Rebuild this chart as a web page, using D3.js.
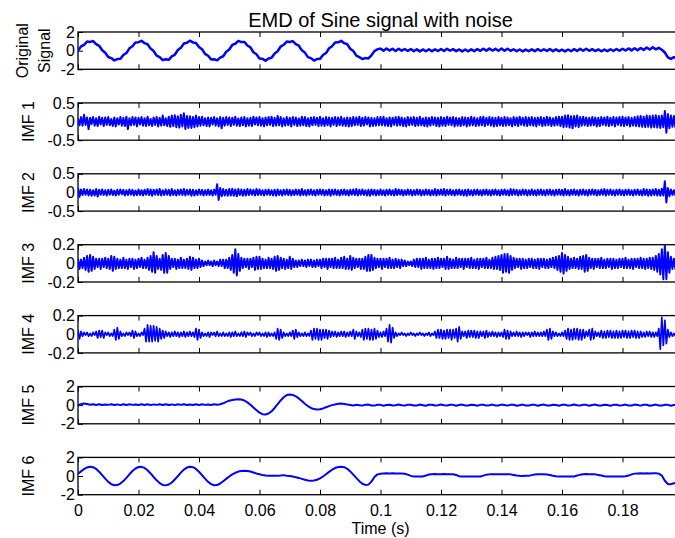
<!DOCTYPE html>
<html lang="en">
<head>
  <meta charset="UTF-8">
  <title>EMD of Sine signal with noise</title>
  <script src="https://d3js.org/d3.v7.min.js"></script>
  <style>
    body {
      margin: 0;
      padding: 0;
      background: #fff;
      overflow: hidden;
    }
    text {
      font-family: Arial, "Liberation Sans", sans-serif;
      fill: #000;
    }
  </style>
</head>
<body>
  <div id="chart"></div>

  <script>
    // sample spacing of the series below (seconds)
    const coarseStep = 0.001;
    const fineStep = 0.0005;

    // original signal, one value per ms
    const originalSignal = [
      0.02, .45, .62, .98, .94, 1.03, .7, .52, .04, -.22, -.68, -.8, -1.05, -.9, -.88, -.47, -.26, .25, .47, .88, .91, 1.06, .8, .69, .22, -.04, -.53, -.7, -1.02, -.93, -.98, -.62, -.44,
      .07, .3, .76, .84, 1.07, .88, .83, .4, .16, -.35, -.55, -.94, -.92, -1.04, -.74, -.6, -.12, .12, .61, .74, 1.04, .92, .94, .55, .35, -.17, -.39, -.83, -.88, -1.07, -.84, -.76, -.3,
      -.06, .44, .63, .97, .93, 1.02, .69, .53, .03, -.21, -.69, -.8, -1.06, -.9, -.88, -.47, -.26, .26, .47, .88, .9, 1.06, .8, .69, .21, -.03, -.53, -.69, -.9, -.8, -.84,
      -.5, -.05, .15,
      .22, 0, .24, .02, .2, -.03, .21, 0, .18, -.04, .17, -.05, .14, -.08, .13, -.06, .15, -.07, .14, -.04,
      .18, -.03, .2, -.01, .16, -.05, .13, -.08, .12, -.07, .14, -.05, .17, -.02, .2, 0, .22, .01, .19, -.01,
      .23, 0, .21, -.02, .15, -.06, .12, -.08, .11, -.06, .14, -.05, .16, -.04, .15, -.03, .17, -.05, .14, -.06,
      .1, -.08, .12, -.06, .16, -.03, .19, -.01, .2, -.02, .16, -.04, .13, -.07, .12, -.05, .15, -.03, .18, -.01,
      .21, .01, .24, .03, .26, .05, .28, .08, .33, .12, .36, .14, .3, .1, -.2, -.72, -.88, -.7, -.86, -.72,
      -.74
    ];

    // IMF 1..4, one value per 0.5 ms
    const imf1 = [
      .08, -.1, .12, -.11, .18, -.09, .11, -.2, .1, -.07, .12, -.11, .09, -.12, .13, -.08, .1, -.12, .11, -.09,
      .12, -.1, .07, -.12, .11, -.13, .09, -.08, .12, -.11, .1, -.12, .13, -.2, .09, -.1, .12, -.09, .11, -.13,
      .1, -.08, .12, -.11, .09, -.12, .13, -.1, .07, -.12, .11, -.09, .12, -.13, .1, -.11, .16, -.1, .09, -.12,
      .13, -.14, .16, -.12, .17, -.15, .14, -.16, .18, -.13, .22, -.2, .15, -.17, .14, -.17, .12, -.15, .16, -.13,
      .12, -.11, .13, -.1, .09, -.12, .11, -.13, .1, -.08, .12, -.11, .09, -.13, .12, -.18, .1, -.11, .12, -.09,
      .11, -.12, .1, -.09, .13, -.11, .08, -.12, .11, -.1, .12, -.13, .09, -.11, .1, -.12, .13, -.08, .11, -.1,
      .12, -.11, .09, -.13, .11, -.1, .12, -.09, .13, -.12, .1, -.11, .15, -.1, .12, -.13, .09, -.11, .12, -.1,
      .1, -.13, .12, -.09, .11, -.12, .08, -.11, .13, -.1, .12, -.12, .09, -.13, .11, -.1, .12, -.09, .1, -.12,
      .13, -.11, .09, -.12, .12, -.1, .11, -.13, .1, -.09, .12, -.12, .11, -.1, .13, -.11, .09, -.12, .11, -.13,
      .1, -.12, .12, -.1, .11, -.09, .13, -.12, .1, -.11, .12, -.08, .11, -.13, .1, -.12, .09, -.11, .12, -.1,
      .12, -.1, .13, -.11, .09, -.12, .11, -.13, .1, -.09, .12, -.11, .13, -.1, .11, -.12, .09, -.13, .12, -.1,
      .11, -.09, .12, -.12, .1, -.11, .13, -.1, .09, -.12, .11, -.13, .1, -.11, .12, -.09, .11, -.12, .1, -.13,
      .12, -.11, .1, -.12, .13, -.09, .11, -.1, .12, -.13, .1, -.11, .09, -.12, .12, -.1, .11, -.13, .1, -.11,
      .13, -.1, .11, -.12, .09, -.11, .12, -.1, .13, -.12, .1, -.09, .12, -.11, .11, -.13, .1, -.12, .12, -.1,
      .1, -.12, .12, -.11, .11, -.1, .09, -.13, .12, -.1, .11, -.12, .13, -.09, .1, -.11, .12, -.12, .11, -.1,
      .12, -.11, .1, -.13, .11, -.09, .12, -.12, .1, -.11, .13, -.1, .11, -.12, .09, -.11, .12, -.1, .13, -.12,
      .13, -.15, .16, -.14, .17, -.16, .14, -.18, .15, -.13, .16, -.15, .12, -.11, .13, -.1, .11, -.12, .1, -.11,
      .12, -.1, .11, -.13, .1, -.12, .12, -.09, .11, -.11, .13, -.12, .1, -.1, .12, -.13, .11, -.09, .12, -.11,
      .13, -.12, .11, -.1, .12, -.13, .1, -.11, .12, -.12, .14, -.13, .15, -.14, .13, -.15, .16, -.14, .15, -.16,
      .16, -.15, .17, -.16, .15, -.17, .16, -.15, .28, -.3, .2, -.18, .16, -.14, .15, -.16, .14, -.15, .13, -.14
    ];

    const imf2 = [
      .13, -.12, .08, -.07, .09, -.06, .08, -.08, .07, -.09, .06, -.08, .09, -.11, .07, -.06, .08, -.07, .06, -.08,
      .07, -.06, .08, -.07, .05, -.08, .07, -.06, .08, -.05, .07, -.08, .06, -.07, .08, -.06, .07, -.08, .05, -.07,
      .08, -.07, .06, -.08, .07, -.06, .09, -.07, .08, -.09, .07, -.06, .08, -.07, .09, -.08, .06, -.07, .08, -.06,
      .07, -.08, .09, -.07, .06, -.08, .07, -.06, .08, -.07, .09, -.08, .07, -.06, .08, -.09, .07, -.08, .06, -.07,
      .08, -.06, .07, -.08, .06, -.07, .08, -.07, .06, -.08, .07, -.06, .22, -.2, .12, -.1, .09, -.08, .07, -.09,
      .09, -.08, .1, -.09, .08, -.1, .09, -.07, .08, -.09, .07, -.08, .09, -.07, .08, -.06, .07, -.08, .09, -.07,
      .08, -.07, .06, -.08, .07, -.06, .08, -.07, .06, -.08, .07, -.09, .08, -.07, .06, -.08, .07, -.06, .08, -.07,
      .07, -.08, .06, -.07, .08, -.06, .07, -.08, .09, -.07, .06, -.08, .07, -.06, .08, -.07, .06, -.08, .07, -.06,
      .08, -.06, .07, -.08, .06, -.07, .08, -.09, .07, -.06, .08, -.07, .06, -.08, .07, -.06, .08, -.07, .06, -.08,
      .07, -.06, .08, -.07, .09, -.08, .07, -.06, .08, -.07, .06, -.08, .07, -.09, .08, -.06, .07, -.08, .06, -.07,
      .08, -.07, .06, -.08, .07, -.06, .08, -.07, .06, -.08, .09, -.07, .08, -.06, .07, -.08, .06, -.07, .08, -.06,
      .07, -.08, .06, -.07, .08, -.06, .07, -.08, .06, -.07, .08, -.06, .07, -.08, .06, -.07, .09, -.08, .07, -.06,
      .08, -.07, .09, -.08, .07, -.06, .08, -.07, .06, -.08, .07, -.06, .08, -.07, .06, -.08, .07, -.09, .08, -.07,
      .06, -.08, .07, -.06, .08, -.07, .06, -.08, .07, -.06, .08, -.07, .06, -.08, .07, -.06, .08, -.07, .06, -.08,
      .07, -.06, .08, -.07, .06, -.08, .09, -.07, .08, -.06, .07, -.08, .06, -.07, .08, -.06, .07, -.08, .06, -.07,
      .08, -.07, .06, -.08, .07, -.06, .08, -.07, .06, -.08, .07, -.06, .08, -.07, .06, -.08, .07, -.06, .08, -.07,
      .07, -.08, .09, -.07, .06, -.08, .07, -.06, .08, -.07, .06, -.08, .07, -.06, .08, -.07, .06, -.08, .07, -.06,
      .08, -.06, .07, -.08, .06, -.07, .08, -.06, .09, -.08, .07, -.06, .08, -.07, .06, -.08, .07, -.06, .08, -.07,
      .06, -.08, .07, -.06, .08, -.07, .06, -.08, .07, -.06, .08, -.07, .06, -.08, .09, -.07, .08, -.09, .07, -.08,
      .08, -.07, .09, -.08, .07, -.09, .1, -.08, .3, -.27, .12, -.1, .08, -.07, .06, -.08, .07, -.06, .08, -.07
    ];

    const imf3 = [
      .05, -.06, .04, -.05, .06, -.07, .08, -.09, .09, -.08, .07, -.06, .05, -.04, .05, -.06, .05, -.04, .06, -.05,
      .05, -.06, .08, -.08, .07, -.06, .05, -.05, .04, -.05, .06, -.05, .04, -.06, .05, -.04, .05, -.06, .04, -.05,
      .05, -.04, .06, -.05, .04, -.05, .06, -.07, .08, -.09, .12, -.1, .08, -.06, .05, -.07, .09, -.1, .11, -.1,
      .08, -.06, .05, -.04, .05, -.06, .04, -.05, .06, -.05, .04, -.05, .05, -.06, .07, -.07, .06, -.05, .04, -.05,
      .05, -.04, .03, -.03, .02, -.02, .03, -.02, .02, -.03, .03, -.02, .02, -.03, .04, -.03, .04, -.05, .04, -.05,
      .06, -.07, .09, -.1, .15, -.13, .1, -.08, .06, -.05, .05, -.04, .05, -.06, .05, -.04, .06, -.07, .07, -.06,
      .07, -.06, .05, -.05, .04, -.05, .06, -.05, .05, -.06, .07, -.08, .08, -.07, .06, -.05, .05, -.06, .04, -.05,
      .07, -.06, .05, -.04, .03, -.04, .03, -.03, .04, -.03, .03, -.04, .04, -.03, .04, -.04, .03, -.04, .04, -.03,
      .04, -.05, .05, -.04, .05, -.06, .05, -.04, .05, -.05, .06, -.05, .04, -.05, .06, -.05, .07, -.06, .05, -.06,
      .08, -.07, .06, -.05, .05, -.04, .05, -.06, .05, -.06, .07, -.08, .09, -.08, .09, -.07, .06, -.05, .05, -.04,
      .05, -.06, .05, -.04, .05, -.05, .06, -.05, .04, -.05, .05, -.04, .04, -.05, .04, -.03, .03, -.03, .02, -.02,
      .02, -.03, .04, -.04, .05, -.04, .05, -.06, .05, -.05, .06, -.05, .04, -.05, .05, -.06, .05, -.05, .06, -.05,
      .05, -.04, .05, -.06, .07, -.06, .05, -.05, .04, -.05, .06, -.05, .05, -.04, .05, -.06, .05, -.04, .05, -.05,
      .06, -.05, .04, -.05, .05, -.06, .05, -.04, .05, -.05, .06, -.05, .04, -.05, .06, -.06, .07, -.06, .08, -.07,
      .09, -.1, .1, -.09, .1, -.1, .08, -.07, .06, -.05, .05, -.04, .05, -.06, .05, -.05, .04, -.05, .05, -.04,
      .05, -.05, .04, -.05, .05, -.06, .05, -.04, .05, -.05, .04, -.05, .05, -.04, .06, -.05, .07, -.07, .08, -.09,
      .11, -.11, .09, -.08, .07, -.06, .05, -.05, .06, -.05, .05, -.06, .07, -.06, .08, -.09, .09, -.08, .06, -.05,
      .05, -.06, .05, -.04, .05, -.05, .06, -.05, .04, -.05, .05, -.04, .05, -.06, .05, -.05, .04, -.05, .05, -.04,
      .05, -.05, .06, -.05, .04, -.05, .05, -.06, .05, -.04, .05, -.05, .06, -.05, .05, -.06, .05, -.05, .06, -.06,
      .06, -.07, .08, -.09, .1, -.12, .15, -.17, .2, -.17, .12, -.1, .07, -.06, .05, -.06, .05, -.04, .05, -.05
    ];

    const imf4 = [
      .04, -.05, .03, -.02, .02, -.01, .02, -.02, .01, -.02, .02, -.01, .03, -.04, .04, -.03, .04, -.04, .02, -.01,
      .02, -.02, .01, -.02, .05, -.06, .07, -.05, .03, -.02, .01, -.02, .02, -.01, .02, -.02, .04, -.04, .03, -.02,
      .01, -.02, .02, -.01, .06, -.08, .1, -.08, .09, -.08, .09, -.07, .08, -.08, .06, -.05, .04, -.04, .03, -.02,
      .02, -.03, .02, -.02, .03, -.02, .02, -.03, .02, -.02, .03, -.03, .02, -.02, .03, -.02, .02, -.03, .06, -.06,
      .05, -.04, .02, -.02, .01, -.02, .02, -.03, .02, -.01, .02, -.02, .03, -.02, .01, -.02, .02, -.02, .01, -.02,
      .02, -.03, .02, -.02, .03, -.02, .01, -.02, .02, -.02, .03, -.03, .02, -.01, .02, -.02, .01, -.02, .02, -.01,
      .02, -.02, .01, -.02, .02, -.03, .02, -.02, .01, -.02, .02, -.05, .06, -.06, .05, -.04, .02, -.02, .01, -.02,
      .02, -.02, .04, -.05, .05, -.03, .02, -.02, .01, -.02, .02, -.02, .01, -.02, .04, -.06, .06, -.05, .06, -.06,
      .05, -.06, .05, -.04, .05, -.05, .04, -.03, .03, -.02, .03, -.03, .02, -.02, .03, -.02, .03, -.03, .02, -.02,
      .03, -.02, .05, -.05, .03, -.02, .02, -.03, .05, -.06, .06, -.05, .06, -.06, .05, -.06, .06, -.05, .04, -.03,
      .02, -.03, .03, -.02, .06, -.08, .1, -.09, .07, -.04, .02, -.02, .01, -.01, .02, -.01, .01, -.02, .01, -.01,
      .02, -.01, .01, -.02, .01, -.01, .02, -.01, .01, -.02, .01, -.01, .02, -.02, .01, -.01, .03, -.04, .05, -.04,
      .05, -.05, .04, -.05, .05, -.04, .05, -.06, .05, -.04, .06, -.08, .08, -.05, .03, -.02, .03, -.04, .04, -.03,
      .04, -.03, .04, -.04, .03, -.04, .03, -.02, .03, -.04, .04, -.03, .02, -.02, .03, -.02, .02, -.03, .02, -.02,
      .02, -.03, .05, -.05, .04, -.05, .03, -.02, .02, -.02, .03, -.02, .02, -.03, .02, -.02, .02, -.01, .02, -.03,
      .02, -.02, .03, -.02, .02, -.02, .02, -.02, .03, -.02, .05, -.06, .06, -.05, .03, -.02, .02, -.02, .01, -.02,
      .02, -.02, .04, -.05, .06, -.06, .05, -.06, .06, -.05, .06, -.06, .05, -.06, .05, -.04, .03, -.02, .05, -.06,
      .06, -.05, .03, -.02, .02, -.03, .04, -.04, .03, -.04, .04, -.03, .04, -.04, .03, -.04, .04, -.04, .03, -.04,
      .04, -.03, .04, -.04, .03, -.04, .04, -.03, .04, -.04, .03, -.04, .03, -.03, .02, -.03, .03, -.02, .03, -.03,
      .02, -.03, .02, -.02, .06, -.16, .18, -.12, .15, -.1, .05, -.03, .02, -.02, .01, -.02, .02, -.01, .02, -.01
    ];

    // IMF 5 and 6, one value per ms
    const imf5 = [
      0, .1, .18, .12, .04, .1, .02, .09, .01, .08, .03, .1, .02, .08, 0, .09, .02, .1, .03, .08,
      .01, .09, .02, .1, 0, .08, .03, .09, .01, .1, .02, .08, 0, .09, .03, .1, .01, .08, .02, .09,
      0, .1, .03, .08, .02, .09, .04,
      .1, .2, .35, .48, .55, .6, .62, .6, .5, .3, .05, -.25, -.55, -.8, -.97, -1.0, -.9, -.65, -.3, .1,
      .5, .85, 1.08, 1.15, 1.1, .95, .72, .45, .15, -.1, -.3, -.42, -.47, -.44, -.35, -.22, -.1, 0, .08, .15,
      .18, .12, .06,
      .02, -.04, .05, 0, -.05, .04, .06, -.03, -.05, .05,
      .03, -.06, .02, .05, -.04, -.02, .06, -.01, -.05, .04,
      .05, -.04, -.03, .06, 0, -.06, .04, .05, -.04, -.02,
      .06, -.02, -.05, .05, .03, -.06, .02, .06, -.04, -.03,
      .05, .02, -.06, .03, .05, -.05, -.01, .06, -.03, -.04,
      .06, .01, -.05, .04, .04, -.06, 0, .06, -.03, -.05,
      .05, .03, -.06, .02, .06, -.04, -.03, .05, .02, -.06,
      .03, .05, -.05, -.01, .06, -.02, -.05, .05, .03, -.06,
      .02, .06, -.04, -.03, .05, .02, -.06, .03, .05, -.05,
      -.01, .06, -.03, -.04, .06, .01, -.05, .04, .04, -.06,
      0, .06, -.03, -.05, .05, .03, -.06, .02, .06, -.04,
      0
    ];

    const imf6 = [
      .25, .5, .75, .92, 1.0, .95, .76, .46, .1, -.28, -.62, -.87, -.99, -.97, -.81, -.54, -.19, .19, .54, .81,
      .97, .99, .87, .62, .28, -.1, -.46, -.76, -.95, -1.0, -.91, -.69, -.37, 0, .37, .69, .91, 1.0, .95, .76,
      .46, .1, -.28, -.62, -.87, -.99, -.97,
      -.8, -.55, -.3, -.05, .18, .35, .48, .55, .57, .55, .48, .38, .28, .2, .12, .06, .03, .02, .02, .03,
      .05, .1, .04, 0, -.05, -.12, -.2, -.3, -.4, -.47, -.5, -.48, -.4, -.25, -.05, .2, .45, .68, .86, .97,
      1.0, .95, .78, .5, .15, -.2, -.55, -.82, -.95, -.92, -.6, -.1, .18,
      .24, .28, .29, .28, .29, .28, .27, .28, .25, .15,
      .02, -.04, -.06, -.05, -.04, .05, .17, .2, .21, .2,
      .2, .21, .2, .19, .2, .12, -.02, -.05, -.06, -.05,
      -.06, -.05, -.04, -.05, .05, .15, .18, .19, .18, .2,
      .19, .18, .19, .18, .12, .05, .02, .01, .03, .02,
      .1, .17, .18, .19, .18, .17, .12, .03, -.03, -.05,
      -.06, -.05, -.06, -.05, -.04, .05, .15, .2, .21, .2,
      .2, .18, .12, .05, -.02, -.04, -.05, -.06, -.05, -.06,
      -.05, -.03, .05, .18, .26, .28, .29, .28, .3, .27,
      .29, .3, .26, .05, -.5, -.85, -.88, -.78, -.72, -.7,
      -.68
    ];

    const seriesList = [originalSignal, imf1, imf2, imf3, imf4, imf5, imf6];
    const seriesSteps = [coarseStep, fineStep, fineStep, fineStep, fineStep, coarseStep, coarseStep];
    const yLimits = [2, 0.5, 0.5, 0.2, 0.2, 2, 2];
    const panelLabels = [["Original", "Signal"], ["IMF 1"], ["IMF 2"], ["IMF 3"], ["IMF 4"], ["IMF 5"], ["IMF 6"]];
    const xTickValues = [0, 0.02, 0.04, 0.06, 0.08, 0.1, 0.12, 0.14, 0.16, 0.18];
    const xDomain = [0, 0.2];

    const width = 675;
    const height = 538;
    const left = 78;
    const right = 683;       // axes run a little past the window edge
    const firstTop = 32;
    const panelStep = 70.9;
    const panelH = 37.3;
    const lineWidths = [2.5, 2, 2, 2, 1.7, 2, 2];

    const svg = d3.select("#chart")
      .append("svg")
      .attr("width", width)
      .attr("height", height);

    const x = d3.scaleLinear().domain(xDomain).range([left, right]);
    const tickFmt = d3.format("~g");

    seriesList.forEach((values, k) => {
      const top = firstTop + k * panelStep;
      const lim = yLimits[k];
      const y = d3.scaleLinear().domain([-lim, lim]).range([panelH, 0]);
      const g = svg.append("g").attr("transform", `translate(0,${top})`);
      const isLast = k === seriesList.length - 1;

      g.append("clipPath").attr("id", "clip" + k)
        .append("rect")
        .attr("x", left).attr("y", 0)
        .attr("width", right - left).attr("height", panelH);

      // box
      g.append("rect")
        .attr("x", left).attr("y", 0)
        .attr("width", right - left).attr("height", panelH)
        .attr("fill", "none")
        .attr("stroke", "#000")
        .attr("stroke-width", 1.3);

      // ticks pointing inward
      const bottomAxis = g.append("g")
        .attr("transform", `translate(0,${panelH})`)
        .call(d3.axisBottom(x).tickValues(xTickValues).tickSize(-5).tickPadding(10)
          .tickFormat(d => isLast ? tickFmt(d) : ""));
      const topAxis = g.append("g")
        .call(d3.axisTop(x).tickValues(xTickValues).tickSize(-5).tickFormat(() => ""));
      const leftAxis = g.append("g")
        .attr("transform", `translate(${left},0)`)
        .call(d3.axisLeft(y).tickValues([-lim, 0, lim]).tickSize(-5).tickPadding(3)
          .tickFormat(d => String(d)));

      [bottomAxis, topAxis, leftAxis].forEach(a => {
        a.select(".domain").remove();
        a.selectAll(".tick line").attr("stroke", "#000").attr("stroke-width", 1);
        a.selectAll("text")
          .style("font-family", "Arial, 'Liberation Sans', sans-serif")
          .style("font-size", "16px")
          .attr("fill", "#000");
      });

      const step = seriesSteps[k];
      const line = d3.line()
        .x((d, i) => x(i * step))
        .y(d => y(d));

      g.append("path")
        .datum(values)
        .attr("clip-path", `url(#clip${k})`)
        .attr("d", line)
        .attr("fill", "none")
        .attr("stroke", "#0000ff")
        .attr("stroke-width", lineWidths[k])
        .attr("stroke-linejoin", "round");

      // y label (rotated)
      const labels = panelLabels[k];
      const baseX = labels.length === 2 ? [28, 49.5] : [33.5];
      labels.forEach((txt, j) => {
        svg.append("text")
          .attr("transform", `translate(${baseX[j]},${top + panelH / 2}) rotate(-90)`)
          .attr("text-anchor", "middle")
          .style("font-size", "16px")
          .text(txt);
      });
    });

    svg.append("text")
      .attr("x", (left + right) / 2)
      .attr("y", 27)
      .attr("text-anchor", "middle")
      .style("font-size", "20px")
      .text("EMD of Sine signal with noise");

    svg.append("text")
      .attr("x", (left + right) / 2)
      .attr("y", 534)
      .attr("text-anchor", "middle")
      .style("font-size", "16px")
      .text("Time (s)");
  </script>
</body>
</html>
